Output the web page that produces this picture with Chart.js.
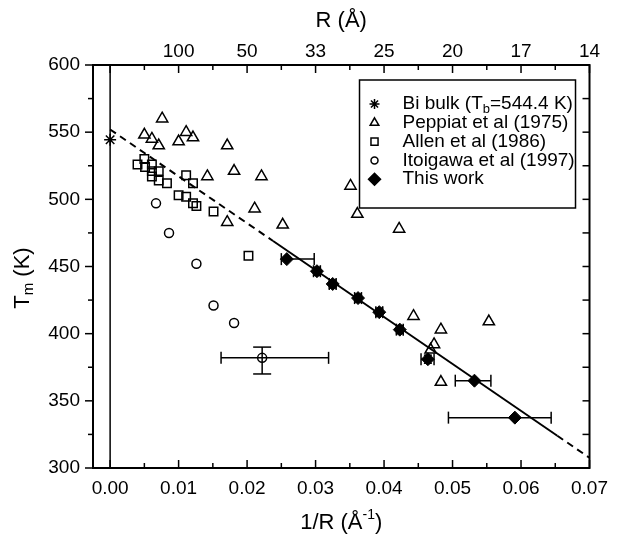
<!DOCTYPE html>
<html>
<head>
<meta charset="utf-8">
<script src="https://cdn.jsdelivr.net/npm/chart.js@4.4.1/dist/chart.umd.min.js"></script>
<style>
  html, body { margin: 0; padding: 0; background: #fff; }
</style>
</head>
<body>
<canvas id="chart" width="617" height="535"></canvas>
<script>
const FONT = '"Liberation Sans", Arial, Helvetica, sans-serif';

// axis ticks
const xTicks = [0, 0.01, 0.02, 0.03, 0.04, 0.05, 0.06, 0.07];
const xTickLabels = ['0.00', '0.01', '0.02', '0.03', '0.04', '0.05', '0.06', '0.07'];
const rTickLabels = ['', '100', '50', '33', '25', '20', '17', '14'];
const xMinorTicks = [0.005, 0.015, 0.025, 0.035, 0.045, 0.055, 0.065];
const yTicks = [300, 350, 400, 450, 500, 550, 600];
const yMinorTicks = [325, 375, 425, 475, 525, 575];
const yRightTicks = [325, 350, 375, 400, 425, 450, 475, 500, 525, 550, 575];

// Bi bulk
const biX = [0];
const biT = [544.4];

// Peppiat et al (1975)
const peppX = [0.0050, 0.0061, 0.0071, 0.0076, 0.0100, 0.0111, 0.0121, 0.0142, 0.0171, 0.0171, 0.0181,
  0.0211, 0.0221, 0.0252, 0.0351, 0.0361, 0.0422, 0.0443, 0.0468, 0.0473, 0.0483, 0.0483, 0.0553];
const peppT = [548, 545, 540, 560, 543, 550, 546, 517, 540, 483, 521,
  493, 517, 481, 510, 489, 478, 413, 388, 392, 403, 364, 409];

// Allen et al (1986)
const allenX = [0.0040, 0.0050, 0.0051, 0.0061, 0.0061, 0.0061, 0.0071, 0.0071, 0.0083,
  0.0100, 0.0111, 0.0111, 0.0121, 0.0121, 0.0126, 0.0151, 0.0202];
const allenT = [526, 530, 524, 526, 521, 517, 521, 514, 512,
  503, 518, 502, 512, 497, 495, 491, 458];

// Itoigawa et al (1997)
const itoX = [0.0067, 0.0086, 0.0126, 0.0151, 0.0181, 0.0222];
const itoT = [497, 475, 452, 421, 408, 382];
const itoXLo = [null, null, null, null, null, 0.0162];
const itoXHi = [null, null, null, null, null, 0.0319];
const itoTLo = [null, null, null, null, null, 370];
const itoTHi = [null, null, null, null, null, 390];

// This work
const thisX = [0.0258, 0.0302, 0.0325, 0.0362, 0.0393, 0.0423, 0.0464, 0.0532, 0.0591];
const thisT = [455.5, 446.5, 437, 426.5, 416, 403, 381, 365, 337.5];
const thisXLo = [0.0250, 0.0297, 0.0320, 0.0357, 0.0388, 0.0418, 0.0454, 0.0504, 0.0494];
const thisXHi = [0.0298, 0.0307, 0.0330, 0.0367, 0.0398, 0.0428, 0.0473, 0.0556, 0.0644];
const thisTLo = [null, 443.5, 434, 423.5, 413, 400, 378, null, null];
const thisTHi = [null, 449.5, 440, 429.5, 419, 406, 384, null, null];

// fit line (dashed / solid / dashed)
const fitX = [0, 0.0238, 0.0653, 0.0700];
const fitT = [552, 469, 324, 307.6];

const pts = (xs, ys) => xs.map((x, i) => ({ x, y: ys[i] }));
const pairs = (lo, hi) => lo.map((v, i) => (v === null ? null : [v, hi[i]]));

const errorBars = {
  id: 'errorBars',
  afterDatasetsDraw(chart) {
    const { ctx } = chart;
    const xs = chart.scales.x;
    const ys = chart.scales.y;
    const seg = (x1, y1, x2, y2) => { ctx.beginPath(); ctx.moveTo(x1, y1); ctx.lineTo(x2, y2); ctx.stroke(); };
    chart.data.datasets.forEach((ds) => {
      if (!ds.errX && !ds.errY) return;
      ctx.save();
      ctx.strokeStyle = '#000';
      ctx.lineWidth = 1.5;
      ds.data.forEach((p, i) => {
        const px = xs.getPixelForValue(p.x);
        const py = ys.getPixelForValue(p.y);
        if (ds.errX && ds.errX[i]) {
          const x1 = xs.getPixelForValue(ds.errX[i][0]);
          const x2 = xs.getPixelForValue(ds.errX[i][1]);
          const c = ds.capX;
          seg(x1, py, x2, py);
          seg(x1, py - c, x1, py + c);
          seg(x2, py - c, x2, py + c);
        }
        if (ds.errY && ds.errY[i]) {
          const y1 = ys.getPixelForValue(ds.errY[i][0]);
          const y2 = ys.getPixelForValue(ds.errY[i][1]);
          const c = ds.capY;
          seg(px, y1, px, y2);
          seg(px - c, y1, px + c, y1);
          seg(px - c, y2, px + c, y2);
        }
      });
      ctx.restore();
    });
  },
};

function richText(ctx, parts, x, y, center) {
  let w = 0;
  parts.forEach((p) => { ctx.font = p[1] + 'px ' + FONT; w += ctx.measureText(p[0]).width; });
  let cx = center ? x - w / 2 : x;
  ctx.textAlign = 'left';
  ctx.textBaseline = 'middle';
  parts.forEach((p) => {
    ctx.font = p[1] + 'px ' + FONT;
    ctx.fillText(p[0], cx, y + p[2]);
    cx += ctx.measureText(p[0]).width;
  });
}

const frameAndTicks = {
  id: 'frameAndTicks',
  afterDraw(chart) {
    const { ctx, chartArea: a } = chart;
    const xs = chart.scales.x;
    const ys = chart.scales.y;
    const seg = (x1, y1, x2, y2) => { ctx.beginPath(); ctx.moveTo(x1, y1); ctx.lineTo(x2, y2); ctx.stroke(); };
    ctx.save();
    ctx.strokeStyle = '#000';
    ctx.fillStyle = '#000';
    ctx.lineWidth = 1.5;
    // x = 0 line
    const x0 = xs.getPixelForValue(0);
    seg(x0, a.top, x0, a.bottom);
    // bottom/top ticks (inward)
    xTicks.forEach((v) => {
      const px = xs.getPixelForValue(v);
      seg(px, a.bottom, px, a.bottom - 8);
      seg(px, a.top, px, a.top + 8);
    });
    xMinorTicks.forEach((v) => {
      const px = xs.getPixelForValue(v);
      seg(px, a.bottom, px, a.bottom - 5);
      seg(px, a.top, px, a.top + 5);
    });
    // left ticks (outward)
    yTicks.forEach((v) => { const py = ys.getPixelForValue(v); seg(a.left - 8, py, a.left, py); });
    yMinorTicks.forEach((v) => { const py = ys.getPixelForValue(v); seg(a.left - 5, py, a.left, py); });
    // right ticks (inward)
    yRightTicks.forEach((v) => { const py = ys.getPixelForValue(v); seg(a.right - 7, py, a.right, py); });
    // frame
    ctx.lineWidth = 2;
    ctx.strokeRect(a.left, a.top, a.right - a.left, a.bottom - a.top);

    // axis titles
    const cxm = (a.left + a.right) / 2;
    richText(ctx, [['R (Å)', 22, 0]], cxm, 21, true);
    richText(ctx, [['1/R (Å', 22, 0], ['-1', 14, -8], [')', 22, 0]], cxm, 523, true);
    ctx.save();
    ctx.translate(23, 278);
    ctx.rotate(-Math.PI / 2);
    richText(ctx, [['T', 22, 0], ['m', 15, 6], [' (K)', 22, 0]], 0, 0, true);
    ctx.restore();

    // legend box
    const bx = a.right - 230;
    const by = a.top + 15;
    const bw = 216;
    const bh = 128;
    ctx.fillStyle = '#fff';
    ctx.fillRect(bx, by, bw, bh);
    ctx.lineWidth = 1.5;
    ctx.strokeRect(bx, by, bw, bh);
    ctx.fillStyle = '#000';
    const rows = [
      { style: 'star', r: 5, fill: false, text: [['Bi bulk (T', 19, 0], ['b', 13, 5], ['=544.4 K)', 19, 0]] },
      { style: 'triangle', r: 5, fill: false, text: [['Peppiat et al (1975)', 19, 0]] },
      { style: 'rect', r: 5, fill: false, text: [['Allen et al (1986)', 19, 0]] },
      { style: 'circle', r: 3.5, fill: false, text: [['Itoigawa et al (1997)', 19, 0]] },
      { style: 'rectRot', r: 6, fill: true, text: [['This work', 19, 0]] },
    ];
    rows.forEach((row, i) => {
      const ry = by + 24 + i * 18.8;
      ctx.save();
      ctx.fillStyle = row.fill ? '#000' : 'rgba(0,0,0,0)';
      ctx.strokeStyle = '#000';
      ctx.lineWidth = 1.5;
      Chart.helpers.drawPoint(ctx, { pointStyle: row.style, radius: row.r, rotation: 0, borderWidth: 1.5 }, bx + 15, ry);
      ctx.restore();
      ctx.fillStyle = '#000';
      richText(ctx, row.text, bx + 43, ry, false);
    });
    ctx.restore();
  },
};

const tickFont = { family: FONT, size: 19 };

new Chart(document.getElementById('chart'), {
  type: 'scatter',
  data: {
    datasets: [
      {
        label: 'Bi bulk',
        data: pts(biX, biT),
        pointStyle: 'star',
        pointRadius: 6,
        borderColor: '#000',
        borderWidth: 1.5,
        order: 1,
      },
      {
        label: 'Peppiat et al (1975)',
        data: pts(peppX, peppT),
        pointStyle: 'triangle',
        pointRadius: 6.5,
        backgroundColor: 'rgba(0,0,0,0)',
        borderColor: '#000',
        borderWidth: 1.5,
        order: 2,
      },
      {
        label: 'Allen et al (1986)',
        data: pts(allenX, allenT),
        pointStyle: 'rect',
        pointRadius: 6,
        backgroundColor: 'rgba(0,0,0,0)',
        borderColor: '#000',
        borderWidth: 1.5,
        order: 2,
      },
      {
        label: 'Itoigawa et al (1997)',
        data: pts(itoX, itoT),
        pointStyle: 'circle',
        pointRadius: 4.5,
        backgroundColor: 'rgba(0,0,0,0)',
        borderColor: '#000',
        borderWidth: 1.5,
        errX: pairs(itoXLo, itoXHi),
        errY: pairs(itoTLo, itoTHi),
        capX: 6,
        capY: 9,
        order: 2,
      },
      {
        label: 'This work',
        data: pts(thisX, thisT),
        pointStyle: 'rectRot',
        pointRadius: 6.5,
        backgroundColor: '#000',
        borderColor: '#000',
        borderWidth: 1,
        errX: pairs(thisXLo, thisXHi),
        errY: pairs(thisTLo, thisTHi),
        capX: 6,
        capY: 4,
        order: 1,
      },
      {
        label: 'fit',
        type: 'line',
        data: pts(fitX, fitT),
        showLine: true,
        pointRadius: 0,
        borderColor: '#000',
        borderWidth: 2,
        segment: { borderDash: (c) => (c.p0DataIndex === 1 ? undefined : [7, 5]) },
        order: 10,
      },
    ],
  },
  options: {
    responsive: false,
    animation: false,
    layout: { padding: { top: 0, right: 23, bottom: 0, left: 0 } },
    plugins: { legend: { display: false }, tooltip: { enabled: false } },
    scales: {
      x: {
        type: 'linear',
        position: 'bottom',
        min: -0.0025,
        max: 0.07,
        grid: { display: false, drawTicks: false },
        border: { display: false },
        afterBuildTicks: (s) => { s.ticks = xTicks.map((v) => ({ value: v })); },
        afterFit: (s) => { s.height = 67; },
        ticks: {
          autoSkip: false,
          maxRotation: 0,
          padding: 9,
          color: '#000',
          font: tickFont,
          callback: (v, i) => xTickLabels[i],
        },
      },
      x2: {
        type: 'linear',
        position: 'top',
        min: -0.0025,
        max: 0.07,
        grid: { display: false, drawTicks: false },
        border: { display: false },
        afterBuildTicks: (s) => { s.ticks = xTicks.map((v) => ({ value: v })); },
        afterFit: (s) => { s.height = 65; },
        ticks: {
          autoSkip: false,
          maxRotation: 0,
          padding: 2,
          color: '#000',
          font: tickFont,
          callback: (v, i) => rTickLabels[i],
        },
      },
      y: {
        type: 'linear',
        min: 300,
        max: 600,
        grid: { display: false, drawTicks: false },
        border: { display: false },
        afterBuildTicks: (s) => { s.ticks = yTicks.map((v) => ({ value: v })); },
        afterFit: (s) => { s.width = 93; },
        ticks: {
          autoSkip: false,
          padding: 13,
          color: '#000',
          font: tickFont,
          callback: (v) => String(v),
        },
      },
    },
  },
  plugins: [errorBars, frameAndTicks],
});
</script>
</body>
</html>
